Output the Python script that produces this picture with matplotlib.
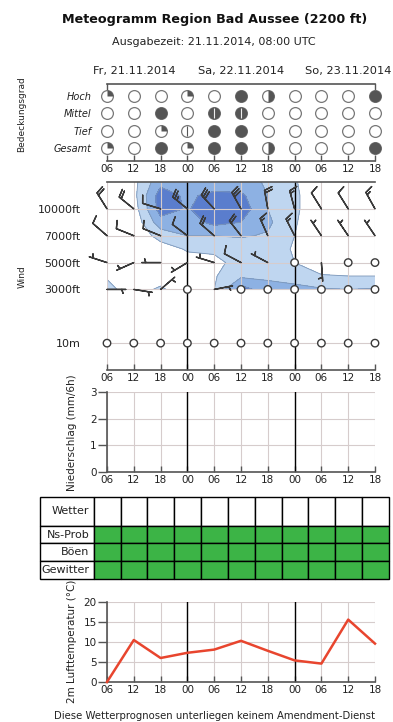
import numpy as np
import matplotlib.pyplot as plt
from matplotlib.path import Path

W, H = 393, 722  # output size in px at dpi 100

# ---------------- data ----------------
times = ['06', '12', '18', '00', '06', '12', '18', '00', '06', '12', '18']
days = ['Fr, 21.11.2014', 'Sa, 22.11.2014', 'So, 23.11.2014']
day_noon = [1, 5, 9]       # index of 12 UTC of each day
day_breaks = [3, 7]        # index of 00 UTC

# cloud cover in octas
cloud_labels = ['Hoch', 'Mittel', 'Tief', 'Gesamt']
cloud_hoch = [2, 0, 0, 2, 0, 8, 4, 0, 0, 0, 8]
cloud_mittel = [0, 0, 8, 0, 7, 7, 0, 0, 0, 0, 0]
cloud_tief = [0, 0, 2, 1, 8, 8, 0, 0, 0, 0, 0]
cloud_gesamt = [2, 0, 8, 2, 8, 8, 4, 0, 0, 0, 8]

# wind: direction (deg, from) and speed (kt)
wind_labels = ['10m', '3000ft', '5000ft', '7000ft', '10000ft']
wind_pos = [0, 2, 3, 4, 5]
dir_10m = [0, 0, 0, 0, 0, 0, 0, 0, 0, 0, 0]
kt_10m = [0, 0, 0, 0, 0, 0, 0, 0, 0, 0, 0]
dir_3000 = [90, 99, 49, 0, 79, 0, 0, 0, 0, 0, 0]
kt_3000 = [5, 5, 5, 0, 5, 0, 0, 0, 0, 0, 0]
dir_5000 = [288, 246, 270, 239, 287, 298, 298, 0, 176, 0, 0]
kt_5000 = [5, 5, 5, 5, 5, 10, 5, 0, 5, 0, 0]
dir_7000 = [311, 292, 292, 307, 311, 322, 336, 333, 326, 326, 326]
kt_7000 = [10, 10, 10, 10, 20, 20, 15, 15, 5, 5, 5]
dir_10000 = [328, 309, 287, 309, 317, 331, 350, 345, 328, 328, 331]
kt_10000 = [20, 20, 10, 25, 30, 30, 20, 15, 10, 10, 15]

# shaded wind field (kt) between 3000ft and top of panel, half level steps
field_y = [2.0, 2.5, 3.0, 3.5, 4.0, 4.5, 5.0, 5.5, 6.0]
field_20 = [23, 15, 22, 12, 20, 45, 34, 32, 31, 30, 31]
field_25 = [19, 12, 14, 12, 19, 28, 28, 27, 21, 20, 20]
field_30 = [12, 10, 12, 16, 17, 24, 24, 20, 12, 12, 12]
field_35 = [10, 10, 15, 21, 22, 24, 25, 19, 12, 12, 12]
field_40 = [10, 12, 24, 30, 30, 31, 29, 20, 12, 12, 12]
field_45 = [10, 13, 36, 35, 43, 40, 32, 21, 12, 12, 12]
field_50 = [12, 15, 45, 39, 47, 46, 30, 22, 12, 12, 12]
field_55 = [12, 17, 45, 38, 43, 42, 30, 22, 12, 12, 12]
field_60 = [12, 17, 37, 34, 33, 33, 29, 21, 12, 12, 12]
field_levels = [20, 30, 40, 100]

precip = [0, 0, 0, 0, 0, 0, 0, 0, 0, 0, 0]

table_labels = ['Wetter', 'Ns-Prob', 'Böen', 'Gewitter']
table_wetter = [None] * 11
table_ns = [0] * 11
table_boeen = [0] * 11
table_gewitter = [0] * 11

temp = [0, 10.5, 6.0, 7.3, 8.1, 10.3, 7.8, 5.4, 4.6, 15.6, 9.6]

# ---------------- style ----------------
GRID = '#d6cccc'
AXC = '#555555'
TXT = '#222222'
level_colors = {0: '#3cb446'}
plt.rcParams['font.family'] = 'DejaVu Sans'

x = np.arange(len(times))


def px_axes(fig, x0, y0, x1, y1):
    return fig.add_axes([x0 / W, 1 - y1 / H, (x1 - x0) / W, (y1 - y0) / H])


def time_axis(ax, grid=True):
    ax.set_xlim(0, 10)
    ax.set_xticks(x)
    ax.set_xticklabels(times, fontsize=7.5, color=TXT)
    ax.tick_params(axis='x', direction='in', length=4, width=1, color=AXC, pad=2)
    for s in ax.spines.values():
        s.set_visible(False)
    ax.spines['bottom'].set_visible(True)
    ax.spines['bottom'].set_color(AXC)
    ax.spines['bottom'].set_linewidth(1.2)
    if grid:
        ax.grid(True, color=GRID, lw=0.8)
        for d in day_breaks:
            ax.axvline(d, color='black', lw=1.0, zorder=2)


fig = plt.figure(figsize=(W / 100, H / 100), dpi=100)

fig.text(215 / W, 1 - 20 / H, 'Meteogramm Region Bad Aussee (2200 ft)',
         ha='center', va='center', fontsize=9.2, weight='bold', color='#111')
fig.text(214 / W, 1 - 42 / H, 'Ausgabezeit: 21.11.2014, 08:00 UTC',
         ha='center', va='center', fontsize=8, color=TXT)

# ---------------- cloud cover ----------------
ax = px_axes(fig, 107, 84, 375, 161)
time_axis(ax, grid=False)
ax.set_ylim(-0.75, 3.69)
ax.spines['top'].set_visible(True)
ax.spines['top'].set_color(AXC)
ax.spines['top'].set_linewidth(1.2)
ax.plot([0, 0], [1, 0.93], color=AXC, lw=1, transform=ax.transAxes, clip_on=False)
ax.plot([1, 1], [1, 0.93], color=AXC, lw=1, transform=ax.transAxes, clip_on=False)
ax.set_yticks([3, 2, 1, 0])
ax.set_yticklabels(cloud_labels, fontsize=7, style='italic', color=TXT)
ax.tick_params(axis='y', length=0, pad=11)
for d, xi in zip(days, day_noon):
    ax.text(xi, 4.45, d, ha='center', va='center', fontsize=8.2, color=TXT, clip_on=False)

CS = 72
for row_y, octas in zip([3, 2, 1, 0], [cloud_hoch, cloud_mittel, cloud_tief, cloud_gesamt]):
    for xi, o in zip(x, octas):
        ax.scatter(xi, row_y, s=CS, marker='o', facecolor='white', edgecolor='#777777',
                   lw=0.9, zorder=2, clip_on=False)
        if o >= 2:
            frac = 1.0 if o == 7 else (o // 2) / 4
            ax.scatter(xi, row_y, s=CS, marker=Path.wedge(90 - 360 * frac, 90),
                       color='#555555', lw=0, zorder=3, clip_on=False)
        if o % 2:
            ax.scatter(xi, row_y, s=CS * 0.8, marker='|', color='#eeeeee' if o > 4 else '#555555',
                       lw=0.8, zorder=4, clip_on=False)
fig.text(22 / W, 1 - 114 / H, 'Bedeckungsgrad', rotation=90, ha='center', va='center',
         fontsize=6.5, color=TXT)

# ---------------- wind ----------------
ax = px_axes(fig, 107, 182, 375, 370)
time_axis(ax)
ax.set_ylim(-1, 6)
ax.set_yticks(wind_pos)
ax.set_yticklabels(wind_labels, fontsize=8, color=TXT)
ax.tick_params(axis='y', length=0, pad=19)
ax.spines['top'].set_visible(True)
ax.spines['top'].set_color(AXC)
ax.spines['top'].set_linewidth(1.2)

field = np.array([field_20, field_25, field_30, field_35, field_40,
                  field_45, field_50, field_55, field_60])
ax.contourf(x, field_y, field, levels=field_levels,
            colors=['#bfd6f0', '#8db1e3', '#5a7dcd'], zorder=0.5)
ax.contour(x, field_y, field, levels=field_levels[:-1], colors='#7d97b8',
           linewidths=0.6, zorder=0.6)

for yl, dirs, kts in zip(wind_pos, [dir_10m, dir_3000, dir_5000, dir_7000, dir_10000],
                         [kt_10m, kt_3000, kt_5000, kt_7000, kt_10000]):
    rad = np.deg2rad(dirs)
    spd = np.array(kts, dtype=float)
    u = -spd * np.sin(rad)
    v = -spd * np.cos(rad)
    ax.barbs(x, np.full(len(x), yl), u, v, length=5.2, barbcolor='#3a3a3a',
             flagcolor='white', fill_empty=True, lw=1.0,
             sizes=dict(emptybarb=0.2, spacing=0.14, height=0.42),
             zorder=4, clip_on=False)
fig.text(22 / W, 1 - 277 / H, 'Wind', rotation=90, ha='center', va='center',
         fontsize=6.5, color=TXT)

# ---------------- precipitation ----------------
ax = px_axes(fig, 107, 392, 375, 472)
time_axis(ax)
ax.set_ylim(0, 3)
ax.set_yticks([0, 1, 2, 3])
ax.set_yticklabels(['0', '1', '2', '3'], fontsize=7.5, color=TXT)
ax.tick_params(axis='y', direction='out', length=6.5, width=1, color=AXC, pad=1)
ax.spines['left'].set_visible(True)
ax.spines['left'].set_color(AXC)
ax.spines['left'].set_linewidth(1.2)
ax.bar(x, precip, width=0.8, color='#4a7fd0', zorder=3)
fig.text(72 / W, 1 - 433 / H, 'Niederschlag (mm/6h)', rotation=90, ha='center',
         va='center', fontsize=7.5, color=TXT)

# ---------------- table ----------------
ax = px_axes(fig, 40, 497, 389, 579)
ax.set_xlim(-2.5, 10.5)
ax.set_ylim(579, 497)
ax.axis('off')
row_edges = [497, 526, 543.3, 561, 579]
for r, (lab, vals) in enumerate(zip(table_labels,
                                    [table_wetter, table_ns, table_boeen, table_gewitter])):
    top, h = row_edges[r], row_edges[r + 1] - row_edges[r]
    ax.bar(-1.5, h, bottom=top, width=2, color='white', edgecolor='black', lw=1, clip_on=False)
    ax.text(-0.66, top + h / 2, lab, ha='right', va='center', fontsize=8, color=TXT)
    cols = ['white' if v is None else level_colors[v] for v in vals]
    ax.bar(x, [h] * len(x), bottom=top, width=1, color=cols, edgecolor='black', lw=1,
           clip_on=False)

# ---------------- temperature ----------------
ax = px_axes(fig, 107, 602, 375, 682)
time_axis(ax)
ax.set_ylim(0, 20)
ax.set_yticks([0, 5, 10, 15, 20])
ax.set_yticklabels(['0', '5', '10', '15', '20'], fontsize=7.5, color=TXT)
ax.tick_params(axis='y', direction='out', length=6.5, width=1, color=AXC, pad=1)
ax.spines['left'].set_visible(True)
ax.spines['left'].set_color(AXC)
ax.spines['left'].set_linewidth(1.2)
ax.plot(x, temp, color='#e8452e', lw=1.8, zorder=3, clip_on=False)
fig.text(72 / W, 1 - 641 / H, '2m Lufttemperatur (°C)', rotation=90, ha='center',
         va='center', fontsize=7.5, color=TXT)

fig.text(215 / W, 1 - 716 / H, 'Diese Wetterprognosen unterliegen keinem Amendment-Dienst',
         ha='center', va='center', fontsize=7.3, color=TXT)

fig.savefig('out.png', dpi=100, facecolor='white')
